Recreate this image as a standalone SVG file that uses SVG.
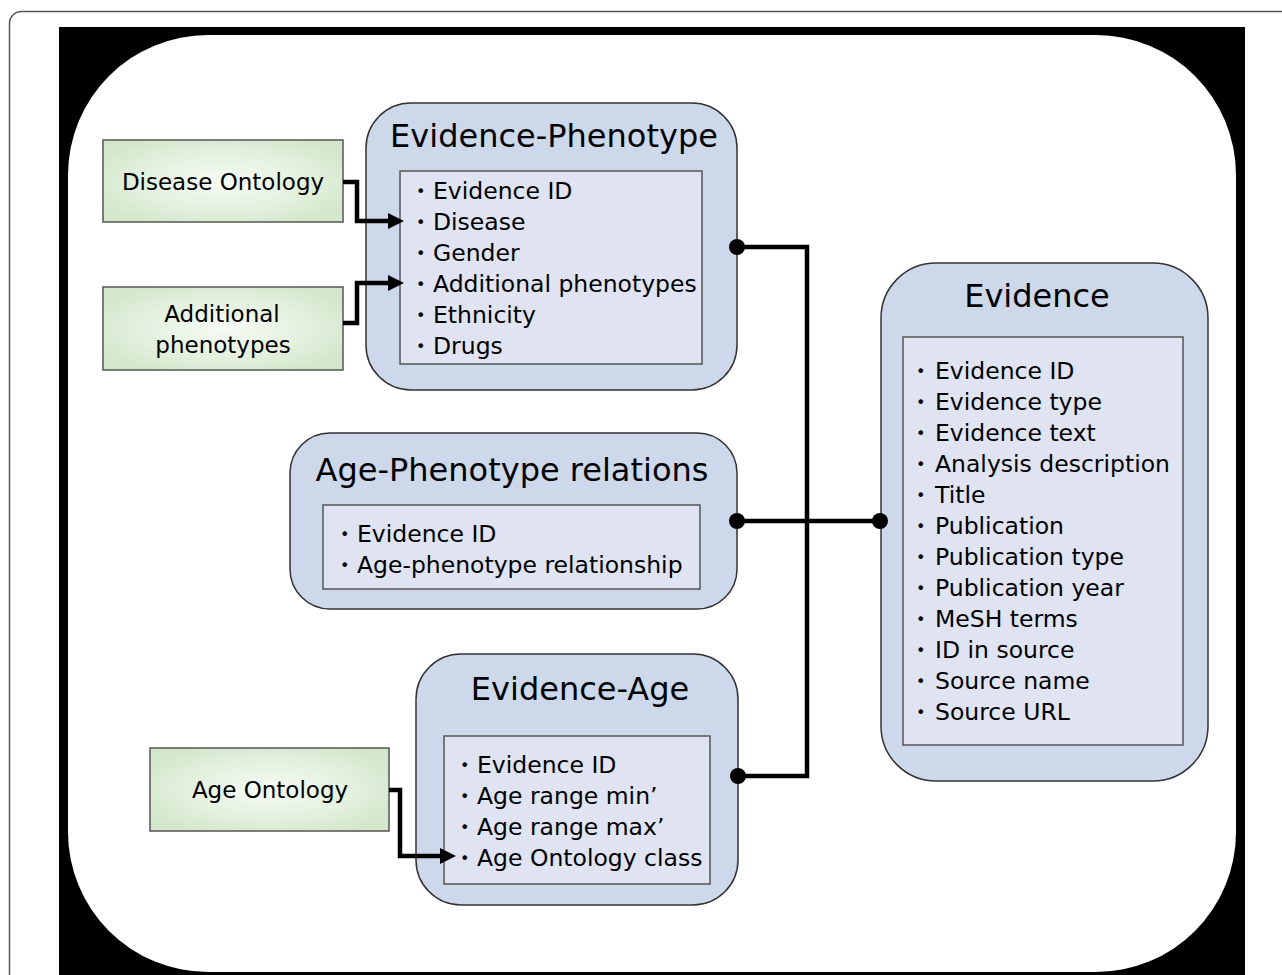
<svg xmlns="http://www.w3.org/2000/svg" width="1282" height="975" viewBox="0 0 1282 975">
<defs>
<radialGradient id="gg" cx="50%" cy="50%" r="60%">
<stop offset="0" stop-color="#f7fbf5"/>
<stop offset="0.55" stop-color="#e4f1df"/>
<stop offset="1" stop-color="#d3e7cb"/>
</radialGradient>
<marker id="arr" markerUnits="userSpaceOnUse" markerWidth="18" markerHeight="16" refX="2" refY="8" orient="auto">
<path d="M0,0 L16,8 L0,16 z" fill="#000"/>
</marker>
<style>
.src{fill:url(#gg);stroke:#555;stroke-width:1.5}
.node{fill:#cdd8ea;stroke:#333;stroke-width:1.5}
.inner{fill:#dfe3f2;stroke:#555;stroke-width:1.5}
text{font-family:"DejaVu Sans","Liberation Sans",sans-serif;fill:#000}
.t{font-size:32px;text-anchor:middle}
.s{font-size:23px;text-anchor:middle}
.i{font-size:23.5px}
.b{font-size:16px}
.c{fill:none;stroke:#000;stroke-width:4.5}
.a{fill:none;stroke:#000;stroke-width:4.5;marker-end:url(#arr)}
</style>
</defs>
<rect x="9.5" y="11.5" width="1300" height="1000" rx="12" fill="#fff" stroke="#555" stroke-width="1.5"/>
<rect x="59" y="27" width="1186" height="960" fill="#000"/>
<rect x="68" y="35" width="1168" height="937" rx="140" fill="#fff"/>

<g id="disease-ontology">
<rect class="src" x="103" y="140" width="240" height="82"/>
<text class="s" x="223" y="190">Disease Ontology</text>
</g>
<g id="additional-phenotypes">
<rect class="src" x="103" y="287" width="240" height="83"/>
<text class="s" x="222" y="322">Additional</text>
<text class="s" x="223" y="353">phenotypes</text>
</g>
<g id="age-ontology">
<rect class="src" x="150" y="748" width="239" height="83"/>
<text class="s" x="270" y="798">Age Ontology</text>
</g>

<g id="evidence-phenotype">
<rect class="node" x="366" y="103" width="371" height="287" rx="45"/>
<text class="t" x="554" y="147">Evidence-Phenotype</text>
<rect class="inner" x="400" y="171" width="302" height="193"/>
<text class="i"><tspan class="b" x="416" y="197">•</tspan><tspan x="433" y="199">Evidence ID</tspan></text>
<text class="i"><tspan class="b" x="416" y="228">•</tspan><tspan x="433" y="230">Disease</tspan></text>
<text class="i"><tspan class="b" x="416" y="259">•</tspan><tspan x="433" y="261">Gender</tspan></text>
<text class="i"><tspan class="b" x="416" y="290">•</tspan><tspan x="433" y="292">Additional phenotypes</tspan></text>
<text class="i"><tspan class="b" x="416" y="321">•</tspan><tspan x="433" y="323">Ethnicity</tspan></text>
<text class="i"><tspan class="b" x="416" y="352">•</tspan><tspan x="433" y="354">Drugs</tspan></text>
</g>

<g id="age-phenotype-relations">
<rect class="node" x="290" y="433" width="447" height="176" rx="40"/>
<text class="t" x="512" y="481">Age-Phenotype relations</text>
<rect class="inner" x="323" y="505" width="377" height="84"/>
<text class="i"><tspan class="b" x="340" y="540">•</tspan><tspan x="357" y="542">Evidence ID</tspan></text>
<text class="i"><tspan class="b" x="340" y="571">•</tspan><tspan x="357" y="573">Age-phenotype relationship</tspan></text>
</g>

<g id="evidence-age">
<rect class="node" x="416" y="654" width="322" height="251" rx="45"/>
<text class="t" x="580" y="700">Evidence-Age</text>
<rect class="inner" x="444" y="736" width="266" height="148"/>
<text class="i"><tspan class="b" x="460" y="771">•</tspan><tspan x="477" y="773">Evidence ID</tspan></text>
<text class="i"><tspan class="b" x="460" y="802">•</tspan><tspan x="477" y="804">Age range min’</tspan></text>
<text class="i"><tspan class="b" x="460" y="833">•</tspan><tspan x="477" y="835">Age range max’</tspan></text>
<text class="i"><tspan class="b" x="460" y="864">•</tspan><tspan x="477" y="866">Age Ontology class</tspan></text>
</g>

<g id="evidence">
<rect class="node" x="881" y="263" width="327" height="518" rx="55"/>
<text class="t" x="1037" y="307">Evidence</text>
<rect class="inner" x="903" y="337" width="280" height="408"/>
<text class="i"><tspan class="b" x="916" y="377">•</tspan><tspan x="935" y="379">Evidence ID</tspan></text>
<text class="i"><tspan class="b" x="916" y="408">•</tspan><tspan x="935" y="410">Evidence type</tspan></text>
<text class="i"><tspan class="b" x="916" y="439">•</tspan><tspan x="935" y="441">Evidence text</tspan></text>
<text class="i"><tspan class="b" x="916" y="470">•</tspan><tspan x="935" y="472">Analysis description</tspan></text>
<text class="i"><tspan class="b" x="916" y="501">•</tspan><tspan x="935" y="503">Title</tspan></text>
<text class="i"><tspan class="b" x="916" y="532">•</tspan><tspan x="935" y="534">Publication</tspan></text>
<text class="i"><tspan class="b" x="916" y="563">•</tspan><tspan x="935" y="565">Publication type</tspan></text>
<text class="i"><tspan class="b" x="916" y="594">•</tspan><tspan x="935" y="596">Publication year</tspan></text>
<text class="i"><tspan class="b" x="916" y="625">•</tspan><tspan x="935" y="627">MeSH terms</tspan></text>
<text class="i"><tspan class="b" x="916" y="656">•</tspan><tspan x="935" y="658">ID in source</tspan></text>
<text class="i"><tspan class="b" x="916" y="687">•</tspan><tspan x="935" y="689">Source name</tspan></text>
<text class="i"><tspan class="b" x="916" y="718">•</tspan><tspan x="935" y="720">Source URL</tspan></text>
</g>

<g id="connectors">
<polyline class="a" points="343,182 357,182 357,221 390,221"/>
<polyline class="a" points="343,323 357,323 357,283 390,283"/>
<polyline class="a" points="389,790 400,790 400,856 442,856"/>
<polyline class="c" points="737,247 807,247 807,776 738,776"/>
<line class="c" x1="737" y1="521" x2="880" y2="521"/>
<circle cx="737" cy="247" r="8" fill="#000"/>
<circle cx="737" cy="521" r="8" fill="#000"/>
<circle cx="880" cy="521" r="8" fill="#000"/>
<circle cx="738" cy="776" r="8" fill="#000"/>
</g>
</svg>
